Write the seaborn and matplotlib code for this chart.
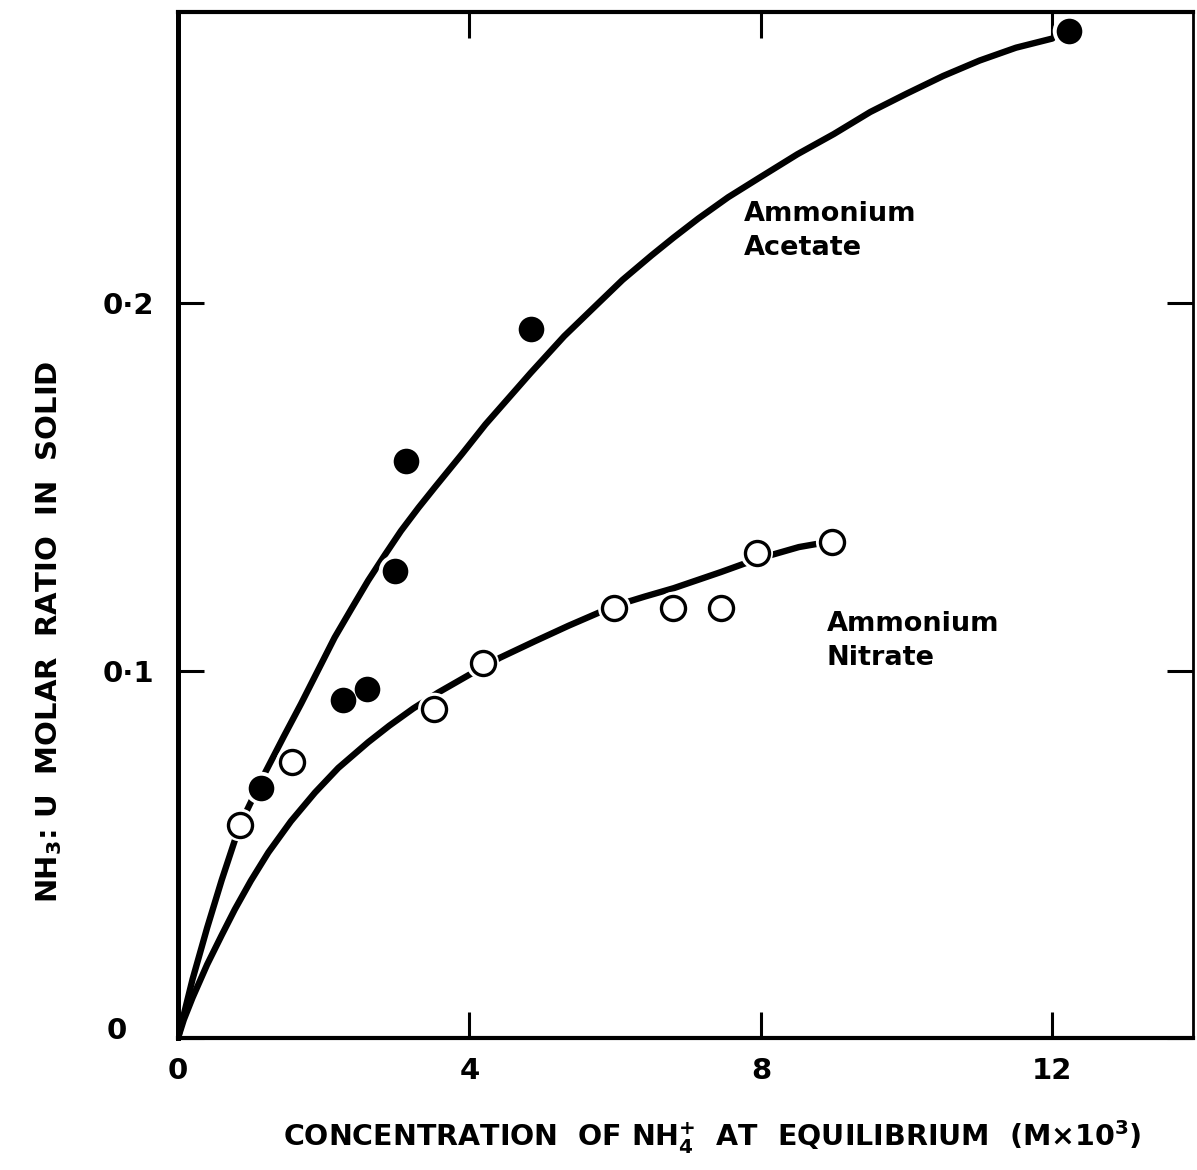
import matplotlib
matplotlib.use("Agg")
import matplotlib.pyplot as plt
import matplotlib.transforms as mtransforms
import seaborn as sns

acetate_x = [1.14, 2.27, 2.60, 2.98, 3.13, 4.84, 12.23]
acetate_y = [0.068, 0.092, 0.095, 0.127, 0.157, 0.193, 0.274]

nitrate_x = [0.85, 1.57, 3.52, 4.18, 5.99, 6.80, 7.45, 7.94, 8.98]
nitrate_y = [0.058, 0.075, 0.0895, 0.102, 0.117, 0.117, 0.117, 0.132, 0.135]

# hand-drawn curves
ac_curve_x = [0, 0.2, 0.4, 0.6, 0.85, 1.19, 1.45, 1.69, 1.92, 2.15, 2.38, 2.61, 2.84,
              3.06, 3.3, 3.53, 3.9, 4.22, 4.53, 4.84, 5.3, 5.77, 6.1, 6.50, 6.8, 7.14,
              7.55, 7.97, 8.5, 9.0, 9.5, 10.0, 10.5, 11.0, 11.5, 12.0]
ac_curve_y = [0, 0.016, 0.030, 0.043, 0.058, 0.072, 0.082, 0.091, 0.100, 0.109, 0.1168,
              0.1245, 0.1315, 0.138, 0.1443, 0.150, 0.159, 0.167, 0.174, 0.181, 0.191,
              0.200, 0.2063, 0.213, 0.2178, 0.223, 0.2288, 0.234, 0.2405, 0.246, 0.252,
              0.257, 0.2618, 0.266, 0.2695, 0.272]

ni_curve_x = [0, 0.08, 0.2, 0.4, 0.6, 0.78, 1.0, 1.24, 1.55, 1.88, 2.2, 2.61, 2.9, 3.23,
              3.57, 4.01, 4.42, 4.9, 5.36, 5.99, 6.40, 6.80, 7.45, 7.94, 8.52, 8.98]
ni_curve_y = [0, 0.005, 0.011, 0.020, 0.0280, 0.0350, 0.0428, 0.0505, 0.0590, 0.0668,
              0.0735, 0.0805, 0.0850, 0.0897, 0.0940, 0.0990, 0.1035, 0.1080, 0.1122,
              0.1176, 0.1201, 0.1224, 0.1268, 0.1303, 0.1336, 0.1352]

x_ticks = [0, 4, 8, 12]
x_tick_labels = ["0", "4", "8", "12"]
y_ticks = [0, 0.1, 0.2]
y_tick_labels = ["0", "0·1", "0·2"]

sns.set_theme(style="white")
plt.rcParams["font.family"] = ["DejaVu Sans"]
plt.rcParams["font.weight"] = "bold"
plt.rcParams["mathtext.default"] = "regular"
for key in ["text.color", "axes.labelcolor", "xtick.color", "ytick.color"]:
    plt.rcParams[key] = "black"
plt.rcParams["xtick.direction"] = "in"
plt.rcParams["ytick.direction"] = "in"

fig = plt.figure(figsize=(11.97, 11.70), dpi=100)
ax = fig.add_axes([0.1487, 0.1128, 0.8480, 0.8769])

lw = 4.6
for cx, cy in [(ac_curve_x, ac_curve_y), (ni_curve_x, ni_curve_y)]:
    sns.lineplot(x=cx, y=cy, ax=ax, sort=False, estimator=None, color="black",
                 linewidth=lw, zorder=2, solid_joinstyle="round", solid_capstyle="round")

# white halos so the curves break around the markers
sns.scatterplot(x=acetate_x + nitrate_x, y=acetate_y + nitrate_y, ax=ax,
                s=560, color="white", edgecolor="none", linewidth=0, zorder=3)
sns.scatterplot(x=acetate_x, y=acetate_y, ax=ax, s=340, color="black",
                edgecolor="black", linewidth=0, zorder=4)
sns.scatterplot(x=nitrate_x, y=nitrate_y, ax=ax, s=300, facecolor="white",
                edgecolor="black", linewidth=2.4, zorder=4)

ax.set_xlim(0, 13.93)
ax.set_ylim(0, 0.2792)

ax.set_xticks(x_ticks)
ax.set_xticklabels(x_tick_labels)
ax.set_yticks(y_ticks)
ax.set_yticklabels(y_tick_labels)
ax.tick_params(axis="both", which="major", direction="in", length=19, width=2.2,
               labelsize=21, color="black", labelcolor="black",
               bottom=True, left=True, top=True, right=True)
ax.tick_params(axis="x", pad=14)
ax.tick_params(axis="y", pad=17)

# the y "0" sits further left and a bit higher
lbl0 = ax.get_yticklabels()[0]
lbl0.set_transform(lbl0.get_transform() +
                   mtransforms.ScaledTranslation(-0.28, 0.10, fig.dpi_scale_trans))

for side, w in {"left": 3.6, "bottom": 3.0, "right": 2.0, "top": 3.0}.items():
    ax.spines[side].set_visible(True)
    ax.spines[side].set_color("black")
    ax.spines[side].set_linewidth(w)

ax.set_xlabel(r"CONCENTRATION  OF NH$_4^{+}$  AT  EQUILIBRIUM  (M$\times$10$^3$)",
              fontsize=20.5, fontweight="bold")
ax.xaxis.set_label_coords(0.526, -0.078)
ax.set_ylabel(r"NH$_3$: U  MOLAR  RATIO  IN  SOLID", fontsize=21, fontweight="bold")
ax.yaxis.set_label_coords(-0.112, 0.396)

ax.text(7.77, 0.2195, "Ammonium\nAcetate", fontsize=19.5, fontweight="bold",
        ha="left", va="center", linespacing=1.4)
ax.text(8.90, 0.108, "Ammonium\nNitrate", fontsize=19.5, fontweight="bold",
        ha="left", va="center", linespacing=1.4)

ax.grid(False)
fig.savefig("out.png", dpi=100)
plt.close(fig)
